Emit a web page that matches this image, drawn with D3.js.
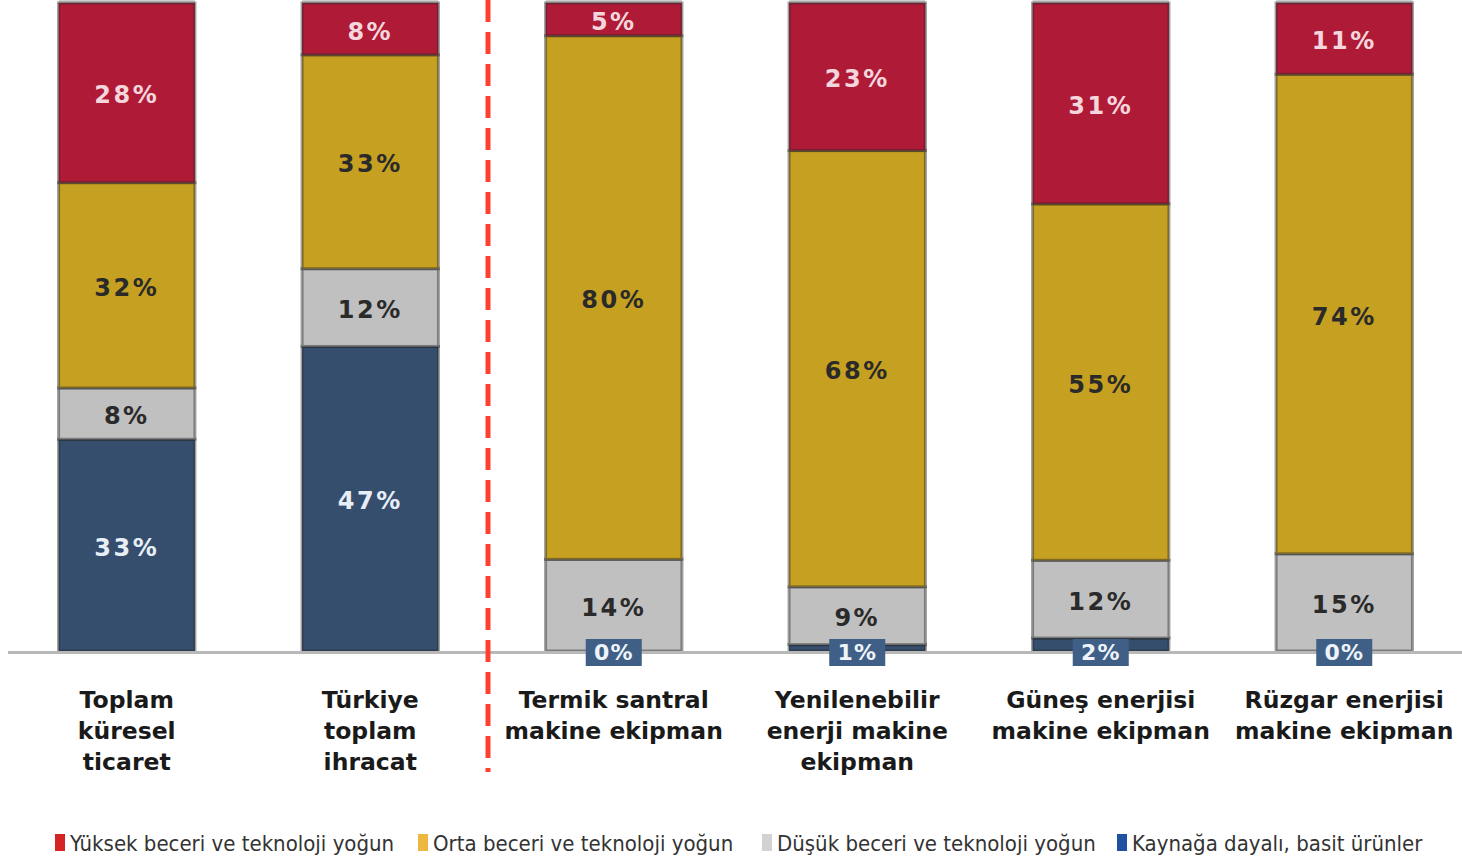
<!DOCTYPE html>
<html>
<head>
<meta charset="utf-8">
<script src="https://cdn.jsdelivr.net/npm/d3@7"></script>
<style>
  html, body { margin: 0; padding: 0; background: #ffffff; }
  svg { display: block; }
</style>
</head>
<body>
<svg id="chart" width="1462" height="859"></svg>
<script>
// Product groups (x axis), each label split into lines
const categories = [
  ["Toplam", "küresel", "ticaret"],
  ["Türkiye", "toplam", "ihracat"],
  ["Termik santral", "makine ekipman"],
  ["Yenilenebilir", "enerji makine", "ekipman"],
  ["Güneş enerjisi", "makine ekipman"],
  ["Rüzgar enerjisi", "makine ekipman"]
];

// Series names (legend, top-to-bottom order of the stack)
const seriesNames = [
  "Yüksek beceri ve teknoloji yoğun",
  "Orta beceri ve teknoloji yoğun",
  "Düşük beceri ve teknoloji yoğun",
  "Kaynağa dayalı, basit ürünler"
];

// Shares (%) per product group
const highTech      = [28, 8, 5, 23, 31, 11];
const mediumTech    = [32, 33, 80, 68, 55, 74];
const lowTech       = [8, 12, 14, 9, 12, 15];
const resourceBased = [33, 47, 0, 1, 2, 0];

const svg = d3.select("#chart");

const barColors = ["#af1a37", "#c6a020", "#c0c0c0", "#354e6e"];
const legendColors = ["#d42424", "#ecb840", "#d2d2d2", "#2050a0"];
const labelColors = ["#f4d6dc", "#2a2a2a", "#2a2a2a", "#e8eef6"];

// Build rows for the stack
const rows = categories.map((c, i) => ({
  idx: i,
  high: highTech[i],
  medium: mediumTech[i],
  low: lowTech[i],
  resource: resourceBased[i]
}));
const keys = ["resource", "low", "medium", "high"];
const keyToSeries = { high: 0, medium: 1, low: 2, resource: 3 };

const stack = d3.stack().keys(keys).offset(d3.stackOffsetExpand);
const layers = stack(rows);

const x = d3.scaleBand()
  .domain(rows.map(r => r.idx))
  .range([5, 1466])
  .paddingInner(0.44)
  .paddingOuter(0.22);

const baseY = 651;
const y = d3.scaleLinear().domain([0, 1]).range([baseY, 3]);

// Light strip above each bar
svg.append("g").selectAll("rect")
  .data(rows)
  .join("rect")
  .attr("x", d => x(d.idx))
  .attr("width", x.bandwidth())
  .attr("y", 0)
  .attr("height", 4)
  .attr("fill", "#d0d0d0");

// Stacked bars
const g = svg.append("g");
layers.forEach(layer => {
  const s = keyToSeries[layer.key];
  g.selectAll(null)
    .data(layer)
    .join("rect")
    .attr("x", d => x(d.data.idx))
    .attr("width", x.bandwidth())
    .attr("y", d => y(d[1]))
    .attr("height", d => Math.max(0, y(d[0]) - y(d[1])))
    .attr("fill", barColors[s])
    .attr("stroke", "rgba(40,40,40,0.45)")
    .attr("stroke-width", 3);
});

// Baseline
svg.append("line")
  .attr("x1", 8).attr("x2", 1462)
  .attr("y1", baseY + 1.5).attr("y2", baseY + 1.5)
  .attr("stroke", "#b8b8b8")
  .attr("stroke-width", 3);

// Segment value labels
const labelFont = "'DejaVu Sans', Verdana, sans-serif";
layers.forEach(layer => {
  const s = keyToSeries[layer.key];
  layer.forEach(d => {
    const value = d.data[layer.key];
    const cx = x(d.data.idx) + x.bandwidth() / 2;
    if (layer.key === "resource" && value < 5) {
      // small shares sit in a box on the baseline
      const lg = svg.append("g").attr("transform", `translate(${cx},${baseY + 1})`);
      lg.append("rect")
        .attr("x", -28).attr("y", -13)
        .attr("width", 56).attr("height", 27)
        .attr("fill", "#3f5f86");
      lg.append("text")
        .attr("text-anchor", "middle")
        .attr("dy", "0.36em")
        .attr("font-family", labelFont)
        .attr("font-weight", "bold")
        .attr("font-size", 22)
        .attr("letter-spacing", 1)
        .attr("fill", "#eef3fa")
        .text(value + "%");
      return;
    }
    const cy = (y(d[0]) + y(d[1])) / 2 + 2;
    svg.append("text")
      .attr("x", cx)
      .attr("y", cy)
      .attr("dy", "0.36em")
      .attr("text-anchor", "middle")
      .attr("font-family", labelFont)
      .attr("font-weight", "bold")
      .attr("font-size", 24)
      .attr("letter-spacing", 2.5)
      .attr("fill", labelColors[s])
      .text(value + "%");
  });
});

// Separator between total trade and the equipment groups
svg.append("line")
  .attr("x1", 488).attr("x2", 488)
  .attr("y1", 0).attr("y2", 772)
  .attr("stroke", "#ff4030")
  .attr("stroke-width", 5)
  .attr("stroke-dasharray", "22,10");

// Category labels
const catG = svg.append("g");
categories.forEach((lines, i) => {
  const cx = x(i) + x.bandwidth() / 2;
  const t = catG.append("text")
    .attr("text-anchor", "middle")
    .attr("font-family", "'DejaVu Sans', sans-serif")
    .attr("font-weight", "bold")
    .attr("font-size", 23.5)
    .attr("fill", "#1a1a1a");
  lines.forEach((ln, j) => {
    t.append("tspan")
      .attr("x", cx)
      .attr("y", 708 + j * 31)
      .text(ln);
  });
});

// Legend
const legendX = [55, 418, 762, 1117];
const legend = svg.append("g");
seriesNames.forEach((name, i) => {
  const lg = legend.append("g").attr("transform", `translate(${legendX[i]},843)`);
  lg.append("rect")
    .attr("x", 0).attr("y", -9)
    .attr("width", 10).attr("height", 17)
    .attr("fill", legendColors[i]);
  lg.append("text")
    .attr("x", 15)
    .attr("y", 0)
    .attr("dy", "0.35em")
    .attr("font-family", "'Liberation Sans Narrow', 'Arial Narrow', 'DejaVu Sans Condensed', sans-serif")
    .attr("font-size", 22)
    .attr("fill", "#333333")
    .text(name);
});
</script>
</body>
</html>
